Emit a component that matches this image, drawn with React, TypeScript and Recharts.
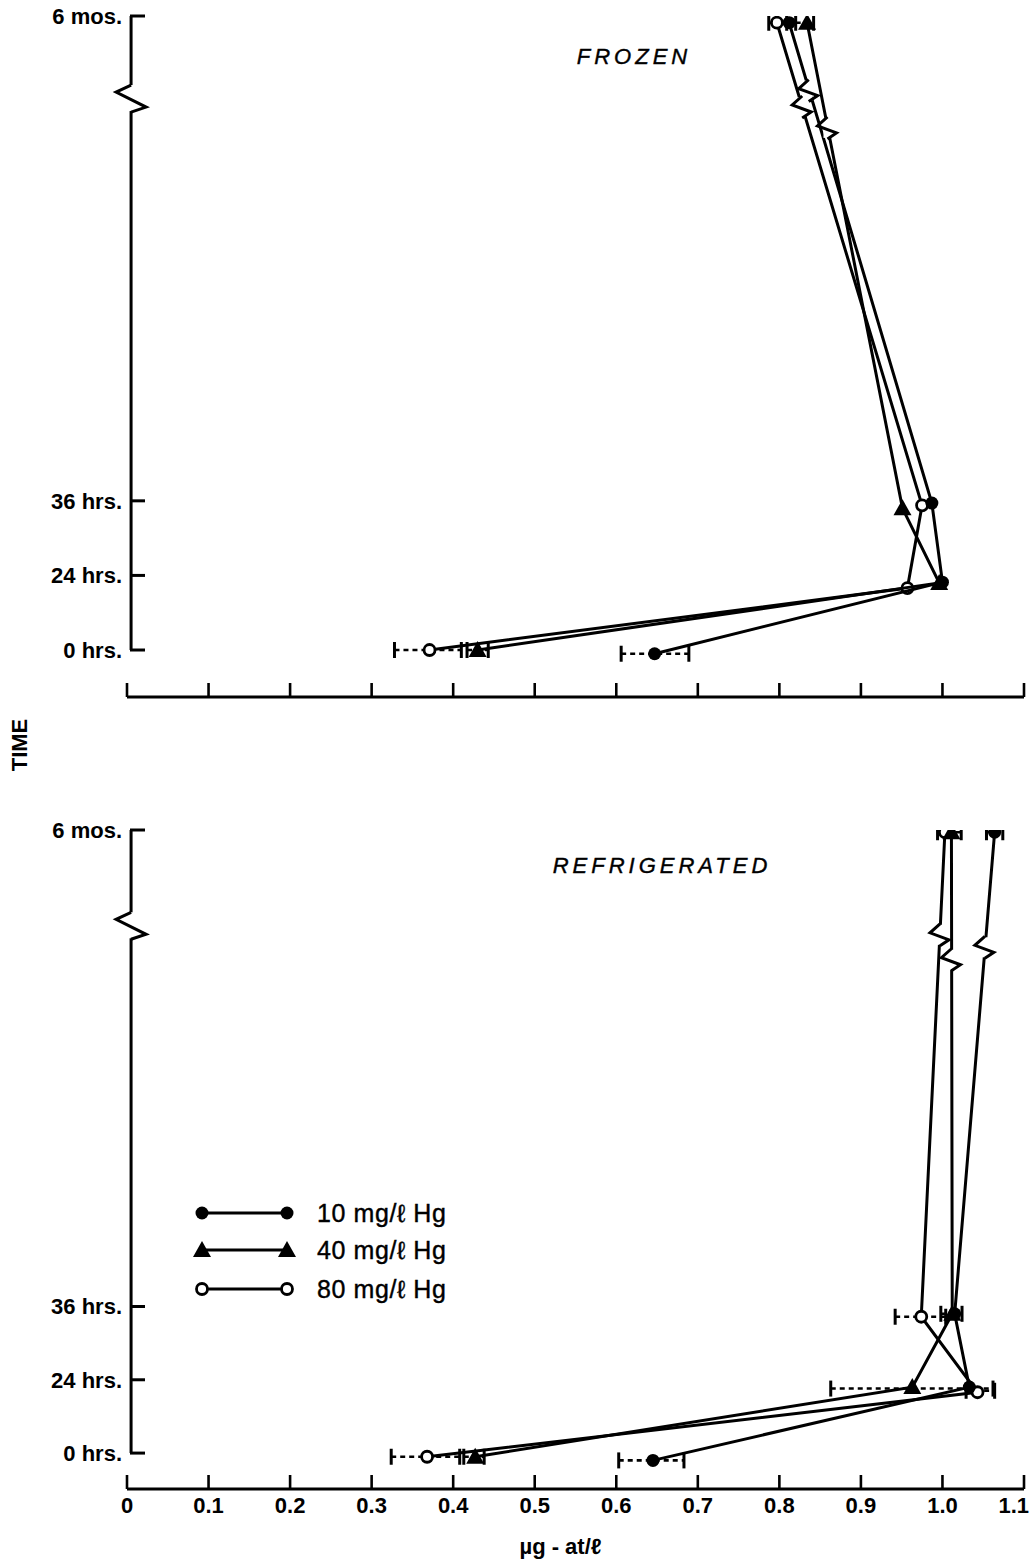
import React from "react";
import { ScatterChart, Scatter, XAxis, YAxis, ReferenceLine, ReferenceDot } from "recharts";

// x axis (µg-at/ℓ)
const xTicks = [0, 0.1, 0.2, 0.3, 0.4, 0.5, 0.6, 0.7, 0.8, 0.9, 1.0, 1.1];

// time axis: positions along the (broken) time axis
const timeTicks = [0, 1, 2, 8.5];
const timeLabels = ["0 hrs.", "24 hrs.", "36 hrs.", "6 mos."];

// FROZEN series (0 hrs -> 24 hrs -> 36 hrs -> 6 mos)
const frozen10 = [
  { x: 0.647, y: -0.05 },
  { x: 1.0, y: 0.91 },
  { x: 0.987, y: 1.97 },
  { x: 0.812, y: 8.41 },
];
const frozen40 = [
  { x: 0.43, y: 0 },
  { x: 0.996, y: 0.9 },
  { x: 0.951, y: 1.9 },
  { x: 0.834, y: 8.41 },
];
const frozen80 = [
  { x: 0.371, y: 0 },
  { x: 0.957, y: 0.83 },
  { x: 0.975, y: 1.94 },
  { x: 0.797, y: 8.41 },
];
const frozenErr = [
  { lo: 0.328, hi: 0.41, y: 0 },
  { lo: 0.417, hi: 0.443, y: 0 },
  { lo: 0.606, hi: 0.689, y: -0.05 },
  { lo: 0.787, hi: 0.809, y: 8.41 },
  { lo: 0.82, hi: 0.842, y: 8.41 },
];
const frozenBreaks = [
  { x: 0.828, y: 7.28 },
  { x: 0.836, y: 7.5 },
  { x: 0.859, y: 7.0 },
];

// REFRIGERATED series
const refrig10 = [
  { x: 0.645, y: -0.1 },
  { x: 1.033, y: 0.9 },
  { x: 1.015, y: 1.9 },
  { x: 1.064, y: 8.47 },
];
const refrig40 = [
  { x: 0.427, y: -0.05 },
  { x: 0.963, y: 0.9 },
  { x: 1.012, y: 1.9 },
  { x: 1.011, y: 8.47 },
];
const refrig80 = [
  { x: 0.368, y: -0.05 },
  { x: 1.043, y: 0.83 },
  { x: 0.974, y: 1.86 },
  { x: 1.003, y: 8.47 },
];
const refrigErr = [
  { lo: 0.324, hi: 0.408, y: -0.05 },
  { lo: 0.413, hi: 0.438, y: -0.05 },
  { lo: 0.603, hi: 0.683, y: -0.1 },
  { lo: 0.863, hi: 1.062, y: 0.88 },
  { lo: 1.029, hi: 1.064, y: 0.85 },
  { lo: 0.942, hi: 1.004, y: 1.86 },
  { lo: 0.998, hi: 1.024, y: 1.9 },
  { lo: 0.994, hi: 1.023, y: 8.47 },
  { lo: 1.054, hi: 1.074, y: 8.47 },
];
const refrigBreaks = [
  { x: 0.997, y: 7.07 },
  { x: 1.011, y: 6.73 },
  { x: 1.052, y: 6.9 },
];

const legendLabels = ["10 mg/ℓ Hg", "40 mg/ℓ Hg", "80 mg/ℓ Hg"];

const FONT = "'Liberation Sans', Arial, sans-serif";
const INK = "#000";

function FilledDot(props: any) {
  const { cx, cy } = props;
  return <circle cx={cx} cy={cy} r={6.5} fill={INK} />;
}
function OpenDot(props: any) {
  const { cx, cy } = props;
  return <circle cx={cx} cy={cy} r={5.5} fill="#fff" stroke={INK} strokeWidth={2.8} />;
}
function Triangle(props: any) {
  const { cx, cy } = props;
  return <polygon points={`${cx},${cy - 9} ${cx - 9},${cy + 7} ${cx + 9},${cy + 7}`} fill={INK} />;
}
function Cap(props: any) {
  const { cx, cy } = props;
  return <line x1={cx} x2={cx} y1={cy - 8} y2={cy + 8} stroke={INK} strokeWidth={3} />;
}
function LineBreak(props: any) {
  const { cx, cy } = props;
  return (
    <g>
      <rect x={cx - 4} y={cy - 10} width={8} height={20} fill="#fff" />
      <polyline
        points={`${cx},${cy - 11} ${cx - 10},${cy - 2} ${cx + 9},${cy + 5} ${cx},${cy + 11}`}
        fill="none"
        stroke={INK}
        strokeWidth={3}
      />
    </g>
  );
}
function AxisBreak(props: any) {
  const { cx, cy } = props;
  return (
    <g>
      <rect x={cx - 4} y={cy - 13} width={8} height={26} fill="#fff" />
      <polyline
        points={`${cx},${cy - 13} ${cx - 15},${cy - 6} ${cx + 15},${cy + 9} ${cx},${cy + 14}`}
        fill="none"
        stroke={INK}
        strokeWidth={3}
      />
    </g>
  );
}

function XTick(props: any) {
  const { x, y, payload, showLabel, index } = props;
  const v = payload.value as number;
  const last = index === xTicks.length - 1;
  return (
    <g>
      <line x1={x} x2={x} y1={y} y2={y - 14} stroke={INK} strokeWidth={2.6} />
      {showLabel && (
        <text
          x={last ? x + 5 : x}
          y={y + 24}
          textAnchor={last ? "end" : "middle"}
          fontSize={22}
          fontWeight="bold"
          fontFamily={FONT}
          fill={INK}
        >
          {v === 0 ? "0" : v.toFixed(1)}
        </text>
      )}
    </g>
  );
}

function YTick(props: any) {
  const { x, y, payload } = props;
  const label = timeLabels[timeTicks.indexOf(payload.value)];
  return (
    <g>
      <line x1={x + 3} x2={x + 18} y1={y} y2={y} stroke={INK} strokeWidth={3} />
      <text x={x - 5} y={y} dy={8} textAnchor="end" fontSize={22} fontWeight="bold" fontFamily={FONT} fill={INK}>
        {label}
      </text>
    </g>
  );
}

interface PanelProps {
  s10: { x: number; y: number }[];
  s40: { x: number; y: number }[];
  s80: { x: number; y: number }[];
  err: { lo: number; hi: number; y: number }[];
  breaks: { x: number; y: number }[];
  yMin: number;
  axisBreakY: number;
  height: number;
  top: number;
  xAxisHeight: number;
  showXLabels: boolean;
}

function Panel({ s10, s40, s80, err, breaks, yMin, axisBreakY, height, top, xAxisHeight, showXLabels }: PanelProps) {
  const seriesLine = { stroke: INK, strokeWidth: 3 };
  return (
    <ScatterChart width={1031} height={height} margin={{ top, right: 7, left: 0, bottom: 0 }}>
      <XAxis
        type="number"
        dataKey="x"
        domain={[0, 1.1]}
        ticks={xTicks}
        interval={0}
        height={xAxisHeight}
        tickSize={0}
        tickMargin={0}
        tickLine={false}
        axisLine={{ stroke: INK, strokeWidth: 3 }}
        tick={(p: any) => <XTick {...p} showLabel={showXLabels} />}
        label={
          showXLabels
            ? { value: "µg - at/ℓ", position: "insideBottom", offset: 9, dx: -15, fontSize: 22, fontWeight: "bold", fontFamily: FONT, fill: INK }
            : undefined
        }
      />
      <YAxis
        type="number"
        dataKey="y"
        domain={[yMin, 8.5]}
        ticks={timeTicks}
        interval={0}
        width={127}
        tickSize={0}
        tickMargin={0}
        tickLine={false}
        axisLine={false}
        allowDataOverflow
        tick={(p: any) => <YTick {...p} />}
      />
      <ReferenceLine
        segment={[
          { x: 0.005, y: 0 },
          { x: 0.005, y: 8.5 },
        ]}
        stroke={INK}
        strokeWidth={3}
      />
      <ReferenceDot x={0.005} y={axisBreakY} shape={(p: any) => <AxisBreak {...p} />} />
      {err.map((e, i) => (
        <Scatter
          key={`err-${i}`}
          data={[
            { x: e.lo, y: e.y },
            { x: e.hi, y: e.y },
          ]}
          fill={INK}
          line={{ stroke: INK, strokeWidth: 2.6, strokeDasharray: "5 4" }}
          shape={(p: any) => <Cap {...p} />}
          isAnimationActive={false}
        />
      ))}
      <Scatter name="80 mg/ℓ Hg" data={s80} fill={INK} line={seriesLine} shape={(p: any) => <OpenDot {...p} />} isAnimationActive={false} />
      <Scatter name="40 mg/ℓ Hg" data={s40} fill={INK} line={seriesLine} shape={(p: any) => <Triangle {...p} />} isAnimationActive={false} />
      <Scatter name="10 mg/ℓ Hg" data={s10} fill={INK} line={seriesLine} shape={(p: any) => <FilledDot {...p} />} isAnimationActive={false} />
      <Scatter data={breaks} fill={INK} shape={(p: any) => <LineBreak {...p} />} isAnimationActive={false} />
    </ScatterChart>
  );
}

function LegendBox() {
  const rows = [
    { y: 23, marker: "filled" },
    { y: 60, marker: "triangle" },
    { y: 99, marker: "open" },
  ];
  const mk = (kind: string, cx: number, cy: number) =>
    kind === "filled" ? <FilledDot cx={cx} cy={cy} /> : kind === "triangle" ? <Triangle cx={cx} cy={cy} /> : <OpenDot cx={cx} cy={cy} />;
  return (
    <svg width={320} height={125} style={{ position: "absolute", left: 180, top: 1190 }}>
      {rows.map((r, i) => (
        <g key={i}>
          <line x1={22} x2={107} y1={r.y} y2={r.y} stroke={INK} strokeWidth={3} />
          {mk(r.marker, 22, r.y)}
          {mk(r.marker, 107, r.y)}
          <text x={137} y={r.y + 9} fontSize={25} letterSpacing={0.6} fontFamily={FONT} fill={INK} stroke={INK} strokeWidth={0.4}>
            {legendLabels[i]}
          </text>
        </g>
      ))}
    </svg>
  );
}

export default function App() {
  return (
    <div style={{ position: "absolute", left: 0, top: 0, width: 1031, height: 1563, background: "#fff", fontFamily: FONT }}>
      <div style={{ position: "absolute", left: 0, top: 0 }}>
        <Panel
          s10={frozen10}
          s40={frozen40}
          s80={frozen80}
          err={frozenErr}
          breaks={frozenBreaks}
          yMin={-0.63}
          axisBreakY={7.4}
          height={720}
          top={16}
          xAxisHeight={23}
          showXLabels={false}
        />
      </div>
      <div style={{ position: "absolute", left: 0, top: 780 }}>
        <Panel
          s10={refrig10}
          s40={refrig40}
          s80={refrig80}
          err={refrigErr}
          breaks={refrigBreaks}
          yMin={-0.49}
          axisBreakY={7.2}
          height={783}
          top={50}
          xAxisHeight={74}
          showXLabels={true}
        />
      </div>
      <div style={{ position: "absolute", left: 534, top: 44, width: 200, textAlign: "center", fontStyle: "italic", fontSize: 22, letterSpacing: 4, WebkitTextStroke: "0.4px #000" }}>
        FROZEN
      </div>
      <div style={{ position: "absolute", left: 512, top: 853, width: 300, textAlign: "center", fontStyle: "italic", fontSize: 22, letterSpacing: 4, WebkitTextStroke: "0.4px #000" }}>
        REFRIGERATED
      </div>
      <div
        style={{
          position: "absolute",
          left: 20,
          top: 745,
          transform: "translate(-50%, -50%) rotate(-90deg)",
          fontSize: 22,
          fontWeight: "bold",
          whiteSpace: "nowrap",
        }}
      >
        TIME
      </div>
      <LegendBox />
    </div>
  );
}
